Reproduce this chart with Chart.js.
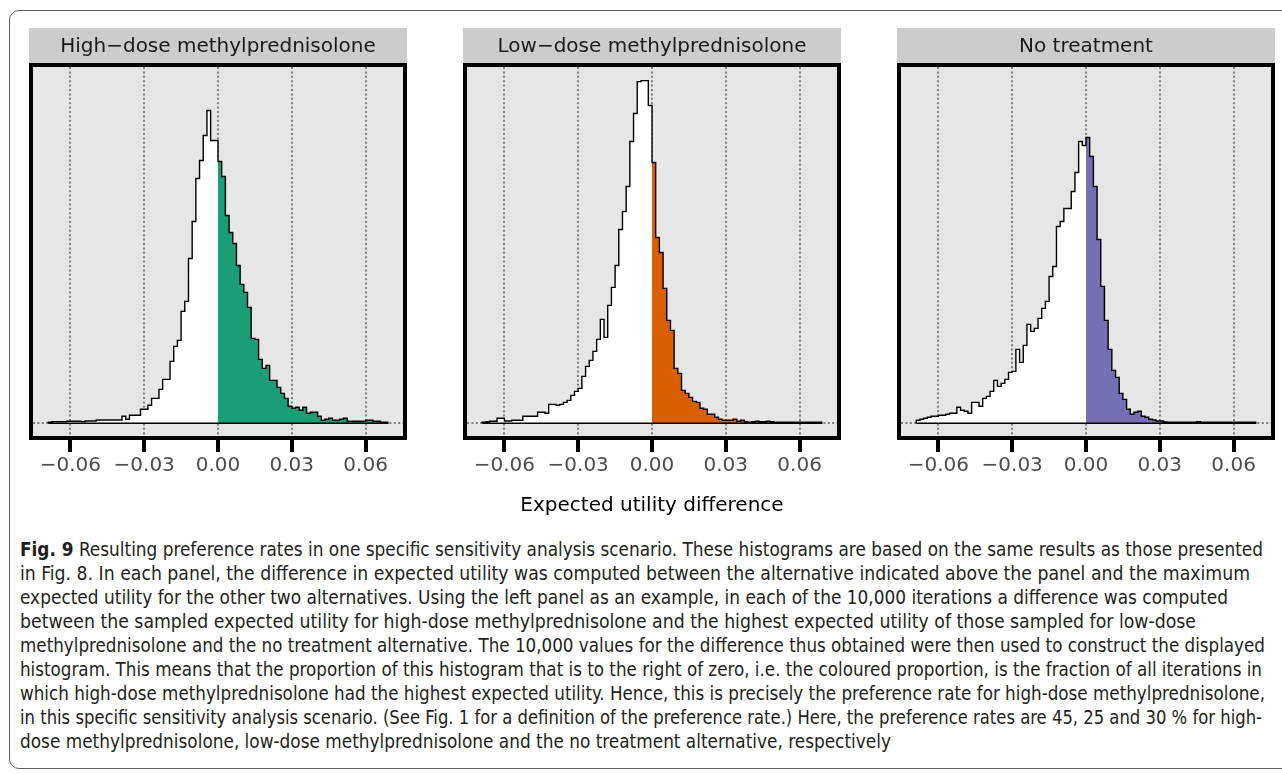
<!DOCTYPE html>
<html>
<head>
<meta charset="utf-8">
<script src="https://cdn.jsdelivr.net/npm/chart.js@4.4.1/dist/chart.umd.min.js"></script>
<style>
body { margin:0; background:#fff; width:1282px; height:774px; overflow:hidden; position:relative; }
#frame { position:absolute; left:9px; top:10px; width:1320px; height:759px; border:1.3px solid #5f5f5f; border-radius:10px 0 0 10px; box-sizing:border-box; }
canvas.panel { position:absolute; top:28px; }
#xtitle { position:absolute; left:29px; width:1246px; top:492px; text-align:center; font-family:'DejaVu Sans', sans-serif; font-size:20px; color:#000; }
#caption { position:absolute; left:20px; top:537px; font-family:'DejaVu Sans Condensed', 'Liberation Sans Narrow', 'DejaVu Sans', sans-serif; font-size:19px; line-height:24px; color:#231f20; }
#caption div { white-space:nowrap; }
#caption span { display:inline-block; transform-origin:0 50%; }
#caption b { font-weight:bold; }
</style>
</head>
<body>
<div id="frame"></div>
<canvas class="panel" id="p1" width="378" height="480" style="left:29px"></canvas>
<canvas class="panel" id="p2" width="378" height="480" style="left:463px"></canvas>
<canvas class="panel" id="p3" width="378" height="480" style="left:897px"></canvas>
<div id="xtitle">Expected utility difference</div>
<div id="caption">
<div><span><b>Fig. 9</b> Resulting preference rates in one specific sensitivity analysis scenario. These histograms are based on the same results as those presented</span></div>
<div><span>in Fig. 8. In each panel, the difference in expected utility was computed between the alternative indicated above the panel and the maximum</span></div>
<div><span>expected utility for the other two alternatives. Using the left panel as an example, in each of the 10,000 iterations a difference was computed</span></div>
<div><span>between the sampled expected utility for high-dose methylprednisolone and the highest expected utility of those sampled for low-dose</span></div>
<div><span>methylprednisolone and the no treatment alternative. The 10,000 values for the difference thus obtained were then used to construct the displayed</span></div>
<div><span>histogram. This means that the proportion of this histogram that is to the right of zero, i.e. the coloured proportion, is the fraction of all iterations in</span></div>
<div><span>which high-dose methylprednisolone had the highest expected utility. Hence, this is precisely the preference rate for high-dose methylprednisolone,</span></div>
<div><span>in this specific sensitivity analysis scenario. (See Fig. 1 for a definition of the preference rate.) Here, the preference rates are 45, 25 and 30 % for high-</span></div>
<div><span>dose methylprednisolone, low-dose methylprednisolone and the no treatment alternative, respectively</span></div>
</div>
<script>
// panels
const panelTitles = ['High\u2212dose methylprednisolone', 'Low\u2212dose methylprednisolone', 'No treatment'];
const fillColours = ['#1b9e77', '#d95f02', '#7570b3'];

// bins: 92 bins of width 0.0015 starting at -0.069
const binStart = -0.069;
const binWidth = 0.0015;

// x axis ticks
const tickValues = [-0.06, -0.03, 0, 0.03, 0.06];
const tickLabels = ['\u22120.06', '\u22120.03', '0.00', '0.03', '0.06'];

// bin heights (y axis has no labels, so units are relative)
const highDose = [
  1, 1.7, 1.7, 1.7, 1.7, 2, 2, 2, 2, 1.7,
  2.3, 2.3, 2.3, 3.3, 3.3, 3.3, 3.3, 3.3, 3.3, 3.3,
  7, 4, 8, 8, 8, 14, 14, 18, 25, 25,
  34, 44, 44, 62, 77, 83, 112, 122, 165, 202,
  245, 263, 288, 313, 283, 283,
  262, 247, 208, 191, 180, 158, 139, 131, 116, 85,
  84, 64, 55, 58, 43, 43, 36, 30, 25, 17,
  15, 16, 13, 16, 10, 11, 11, 7, 3, 4,
  5, 3, 3, 4, 5, 2, 2, 2, 2, 2,
  3, 3, 2, 2, 1, 1
];
const lowDose = [
  1, 1.5, 2, 2, 5, 5, 2.3, 2.3, 3, 3,
  3, 7, 7, 7, 7, 11, 11, 10, 19, 19,
  18, 19, 21, 23, 28, 32, 35, 47, 57, 63,
  72, 84, 104, 86, 118, 136, 158, 194, 212, 237,
  282, 310, 342, 343, 343, 318,
  261, 186, 171, 135, 103, 93, 55, 50, 33, 30,
  26, 22, 21, 15, 14, 9, 9, 6, 4, 3,
  3, 3, 4, 2, 3, 1.5, 1, 1.5, 2, 1.5,
  1.5, 2, 1.5, 1, 1, 1, 1, 1, 1, 1,
  1, 1, 1, 1, 1, 1
];
const noTreatment = [
  3, 4, 5, 6, 7, 7, 8, 8, 9, 10,
  10, 16, 13, 12, 10, 21, 21, 17, 25, 27,
  32, 43, 37, 40, 44, 51, 52, 74, 61, 78,
  99, 92, 95, 105, 115, 122, 147, 157, 197, 202,
  215, 215, 232, 251, 282, 278,
  286, 267, 237, 184, 137, 103, 74, 53, 46, 30,
  24, 14, 9, 11, 12, 7, 6, 4, 3.3, 2.3,
  2.3, 1.3, 1, 1, 1, 1, 1, 1, 1, 1,
  1.7, 1, 1, 1, 1, 1, 1, 1, 1, 1,
  1, 1, 1, 1, 1, 1
];

const panelPlugin = {
  id: 'panel',
  beforeDraw(chart, args, opts) {
    const ctx = chart.ctx, a = chart.chartArea;
    ctx.save();
    ctx.fillStyle = '#cccccc';
    ctx.fillRect(0, 0, chart.width, a.top - 4);
    ctx.fillStyle = '#1a1a1a';
    ctx.font = '20px "DejaVu Sans"';
    ctx.textAlign = 'center';
    ctx.textBaseline = 'middle';
    ctx.fillText(opts.text, chart.width / 2, (a.top - 4) / 2 + 1);
    ctx.fillStyle = '#e5e6e5';
    ctx.fillRect(a.left, a.top, a.right - a.left, a.bottom - a.top);
    ctx.restore();
  },
  afterDraw(chart) {
    const ctx = chart.ctx, a = chart.chartArea;
    ctx.save();
    ctx.strokeStyle = '#000';
    ctx.lineWidth = 4;
    ctx.strokeRect(a.left - 2, a.top - 2, a.right - a.left + 4, a.bottom - a.top + 4);
    ctx.restore();
  }
};

function makePanel(id, heights, colour, title) {
  const n = heights.length;
  const edges = heights.map((h, i) => binStart + i * binWidth);
  const end = binStart + n * binWidth;
  const zi = edges.findIndex(e => e > -binWidth / 2);

  const outline = [{x: binStart, y: 0}]
    .concat(heights.map((h, i) => ({x: edges[i], y: h})))
    .concat([{x: end, y: 0}, {x: binStart, y: 0}]);
  const below = heights.slice(0, zi).map((h, i) => ({x: edges[i], y: h}))
    .concat([{x: 0, y: heights[zi - 1]}]);
  const above = heights.slice(zi).map((h, i) => ({x: edges[zi + i], y: h}))
    .concat([{x: end, y: heights[n - 1]}]);

  new Chart(document.getElementById(id), {
    type: 'line',
    data: {
      datasets: [
        {data: outline, borderColor: '#000', borderWidth: 1.4, fill: false, stepped: true, pointRadius: 0, order: 0},
        {data: below, borderWidth: 0, backgroundColor: '#ffffff', fill: 'origin', stepped: true, pointRadius: 0, order: 1},
        {data: above, borderWidth: 0, backgroundColor: colour, fill: 'origin', stepped: true, pointRadius: 0, order: 1}
      ]
    },
    options: {
      responsive: false,
      animation: false,
      devicePixelRatio: 1,
      layout: {padding: {left: 4, right: 4, top: 39, bottom: 0}},
      plugins: {
        legend: {display: false},
        tooltip: {enabled: false},
        panel: {text: title}
      },
      scales: {
        x: {
          type: 'linear', min: -0.0752, max: 0.0752,
          afterBuildTicks: s => { s.ticks = tickValues.map(v => ({value: v})); },
          afterFit: s => { s.height = 72; },
          grid: {color: '#7d7d7d', lineWidth: 2, borderDash: [2, 2.4], tickColor: '#000', tickWidth: 4, tickLength: 16, tickBorderDash: []},
          border: {display: false, dash: [2, 2.4]},
          ticks: {
            callback: (v, i) => tickLabels[i],
            font: {family: 'DejaVu Sans', size: 20},
            color: '#4d4d4d', padding: 2, maxRotation: 0, autoSkip: false
          }
        },
        y: {
          min: -12.7, max: 356.6,
          afterBuildTicks: s => { s.ticks = [{value: 0}]; },
          afterFit: s => { s.width = 0; },
          grid: {color: '#7d7d7d', lineWidth: 2, borderDash: [2, 2.4], drawTicks: false},
          border: {display: false, dash: [2, 2.4]},
          ticks: {display: false}
        }
      }
    },
    plugins: [panelPlugin]
  });
}

makePanel('p1', highDose, fillColours[0], panelTitles[0]);
makePanel('p2', lowDose, fillColours[1], panelTitles[1]);
makePanel('p3', noTreatment, fillColours[2], panelTitles[2]);

// caption lines: squeeze each line to the width it has in the original
// (the last, short line uses the same squeeze as the first one)
const lineWidths = [1243, 1230, 1208, 1176, 1245, 1242, 1245, 1242];
const spans = document.querySelectorAll('#caption span');
let firstScale = 1;
spans.forEach((sp, i) => {
  const w = sp.getBoundingClientRect().width;
  const k = i < lineWidths.length ? lineWidths[i] / w : firstScale;
  if (i === 0) firstScale = k;
  sp.style.transform = 'scaleX(' + k + ')';
});
</script>
</body>
</html>
